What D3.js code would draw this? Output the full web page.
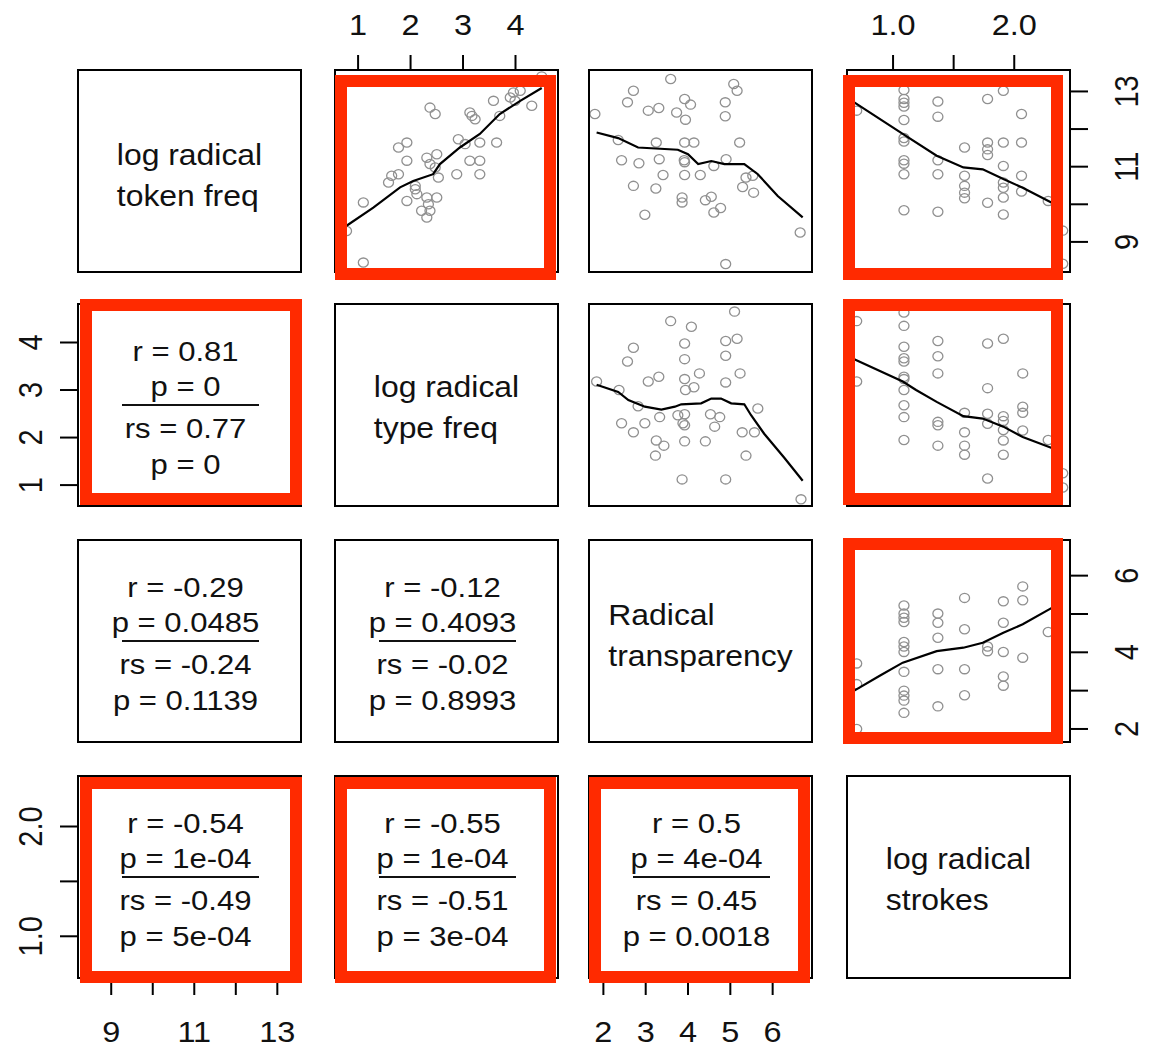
<!DOCTYPE html>
<html><head><meta charset="utf-8">
<script src="https://cdn.jsdelivr.net/npm/d3@7"></script>
<style>body{margin:0;background:#fff}svg{display:block}</style>
</head><body>
<svg id="c" width="1150" height="1049"></svg>
<script>
// ---------------- DATA ----------------
const varNames = [["log radical","token freq"],["log radical","type freq"],["Radical","transparency"],["log radical","strokes"]];
const varDomains = [[8.2,13.57],[0.56,4.81],[1.66,6.93],[0.62,2.46]];
const tickVals = [[9,10,11,12,13],[1,2,3,4],[2,3,4,5,6],[1.0,1.5,2.0]];
const topLabels = {1:["1","2","3","4"], 3:["1.0","","2.0"]};
const bottomLabels = {0:["9","","11","","13"], 2:["2","3","4","5","6"]};
const leftLabels = {1:["1","2","3","4"], 3:["1.0","","2.0"]};
const rightLabels = {0:["9","","11","","13"], 2:["2","","4","","6"]};

// correlation panels (row, col) in the lower triangle
const corrCells = [[1,0],[2,0],[2,1],[3,0],[3,1],[3,2]];
const corrR  = ["0.81","-0.29","-0.12","-0.54","-0.55","0.5"];
const corrP  = ["0","0.0485","0.4093","1e-04","1e-04","4e-04"];
const corrRs = ["0.77","-0.24","-0.02","-0.49","-0.51","0.45"];
const corrPs = ["0","0.1139","0.8993","5e-04","3e-04","0.0018"];

// highlighted (boxed in red) cells
const highlighted = [[0,1],[0,3],[1,0],[1,3],[2,3],[3,0],[3,1],[3,2]];

// scatter points: [x (column variable), y (row variable)]
const pts_r1c2 = [[2.37,12.57],[2.47,12.40],[3.13,12.44],[3.17,12.35],[3.23,12.26],[3.58,12.75],[3.96,12.97],[4.09,13.02],[3.90,12.84],[3.99,12.75],[4.31,12.62],[3.70,12.35],[1.77,11.51],[1.93,11.64],[2.91,11.73],[3.04,11.60],[3.32,11.64],[3.64,11.64],[1.93,11.16],[2.31,11.24],[2.50,11.33],[2.37,11.07],[2.47,10.98],[3.13,11.16],[3.32,11.16],[2.88,10.80],[3.32,10.80],[2.53,10.71],[1.64,10.76],[1.77,10.80],[1.58,10.58],[2.09,10.49],[2.09,10.40],[1.93,10.09],[2.12,10.27],[2.31,10.18],[2.50,10.18],[2.34,10.00],[1.10,10.05],[2.21,9.83],[2.31,9.65],[2.37,9.83],[1.10,8.45],[0.78,9.29],[4.50,13.40]];
const fit_r1c2 = [[0.78,9.43],[1.29,9.91],[1.80,10.45],[2.05,10.62],[2.43,10.80],[2.56,11.07],[2.94,11.51],[3.32,11.87],[3.70,12.40],[4.09,12.75],[4.50,13.09]];

const pts_r1c3 = [[1.80,12.40],[2.71,13.02],[2.57,12.71],[3.59,13.33],[3.06,12.49],[3.31,12.56],[3.92,12.80],[4.06,12.65],[3.73,12.44],[3.94,12.25],[4.88,12.71],[4.88,12.34],[5.08,13.20],[5.16,13.02],[5.22,11.64],[2.35,11.71],[3.25,11.64],[3.92,11.64],[4.14,11.64],[2.43,11.17],[2.84,11.09],[3.32,11.20],[3.91,11.17],[3.92,11.12],[3.41,10.78],[3.92,10.78],[4.29,10.78],[4.61,11.02],[4.90,11.20],[5.37,10.71],[5.53,10.76],[5.29,10.46],[5.55,10.31],[2.71,10.49],[3.24,10.42],[3.86,10.18],[3.86,10.05],[4.41,10.11],[4.55,10.20],[4.61,9.78],[4.77,9.90],[2.98,9.72],[6.65,9.25],[4.89,8.41]];
const fit_r1c3 = [[1.84,11.91],[2.35,11.76],[2.82,11.51],[3.76,11.45],[4.00,11.33],[4.24,11.07],[4.55,11.15],[4.86,11.07],[5.33,11.07],[5.65,10.80],[6.12,10.22],[6.71,9.65]];

const pts_r1c4 = [[0.70,12.49],[1.09,13.04],[1.09,12.80],[1.09,12.70],[1.09,12.60],[1.09,12.24],[1.09,11.76],[1.09,11.67],[1.09,11.17],[1.09,11.08],[1.09,10.80],[1.09,9.84],[1.37,12.73],[1.37,12.33],[1.37,11.17],[1.37,10.80],[1.37,9.80],[1.59,11.51],[1.59,10.76],[1.59,10.49],[1.59,10.31],[1.59,10.16],[1.78,12.80],[1.78,11.64],[1.78,11.46],[1.78,11.31],[1.78,10.04],[1.91,13.02],[1.91,11.64],[1.91,11.02],[1.91,10.58],[1.91,10.44],[1.91,10.18],[1.91,9.73],[2.06,12.40],[2.06,11.64],[2.06,10.76],[2.06,10.34],[2.28,10.09],[2.40,9.30],[2.40,8.42]];
const fit_r1c4 = [[0.68,12.71],[1.08,11.87],[1.36,11.29],[1.58,10.98],[1.74,10.93],[1.91,10.67],[2.07,10.44],[2.31,10.04]];

const pts_r2c3 = [[5.10,4.65],[3.59,4.45],[4.08,4.33],[2.71,3.89],[2.57,3.60],[3.92,3.98],[3.92,3.65],[4.89,4.03],[5.16,4.08],[4.89,3.72],[3.31,3.28],[3.06,3.18],[4.27,3.35],[3.92,3.23],[3.94,3.00],[4.14,3.06],[4.89,3.16],[5.23,3.35],[1.84,3.18],[2.37,3.00],[2.82,2.66],[5.65,2.61],[2.43,2.30],[2.71,2.11],[2.98,2.30],[3.33,2.43],[3.76,2.47],[3.92,2.49],[3.88,2.30],[3.92,2.26],[4.53,2.49],[4.75,2.43],[4.63,2.23],[5.28,2.11],[5.57,2.11],[3.25,1.94],[3.43,1.83],[3.23,1.62],[3.92,1.92],[4.41,1.92],[5.37,1.62],[3.86,1.12],[4.89,1.12],[6.67,0.70]];
const fit_r2c3 = [[1.84,3.11],[2.35,2.96],[2.59,2.79],[2.98,2.65],[3.37,2.59],[3.69,2.65],[3.84,2.70],[4.31,2.72],[4.55,2.82],[4.78,2.82],[5.02,2.72],[5.33,2.70],[5.49,2.47],[5.80,2.08],[6.27,1.58],[6.71,1.09]];

const pts_r2c4 = [[0.70,4.45],[0.70,3.18],[1.09,4.63],[1.09,4.35],[1.09,3.91],[1.09,3.67],[1.09,3.60],[1.09,3.28],[1.09,3.23],[1.09,3.00],[1.09,2.68],[1.09,2.43],[1.09,1.95],[1.37,4.03],[1.37,3.71],[1.37,3.35],[1.37,2.33],[1.37,2.26],[1.37,1.83],[1.59,2.52],[1.59,2.11],[1.59,1.83],[1.59,1.64],[1.78,3.98],[1.78,3.04],[1.78,2.50],[1.78,2.29],[1.78,1.14],[1.91,4.08],[1.91,2.45],[1.91,2.35],[1.91,2.16],[1.91,1.94],[1.91,1.64],[2.07,3.35],[2.07,2.65],[2.07,2.52],[2.07,2.15],[2.28,1.95],[2.40,1.25],[2.40,0.95]];
const fit_r2c4 = [[0.68,3.65],[1.08,3.18],[1.19,3.00],[1.36,2.75],[1.58,2.45],[1.74,2.40],[1.91,2.23],[2.07,2.01],[2.31,1.78]];

const pts_r3c4 = [[0.70,3.71],[0.70,3.17],[0.70,2.00],[1.09,5.22],[1.09,5.01],[1.09,4.90],[1.09,4.79],[1.09,4.27],[1.09,4.15],[1.09,4.01],[1.09,3.49],[1.09,3.00],[1.09,2.87],[1.09,2.74],[1.09,2.42],[1.37,5.01],[1.37,4.77],[1.37,4.38],[1.37,3.56],[1.37,2.59],[1.59,5.42],[1.59,4.60],[1.59,3.56],[1.59,2.88],[1.78,4.15],[1.78,4.03],[1.91,5.33],[1.91,4.77],[1.91,4.01],[1.91,3.37],[1.91,3.13],[2.07,5.72],[2.07,5.36],[2.07,3.86],[2.28,4.53]];
const fit_r3c4 = [[0.68,3.00],[0.89,3.39],[1.08,3.73],[1.36,4.03],[1.58,4.12],[1.74,4.25],[1.91,4.51],[2.07,4.73],[2.31,5.16]];

// ---------------- LAYOUT ----------------
const W = 1150, H = 1049;
const colX = [78, 335, 589, 847], rowY = [70, 304, 540, 776];
const PW = 223, PH = 202;
const FONT = '"Liberation Sans", Arial, Helvetica, sans-serif';
const INK = '#111';
const RED = '#ff2a00';
const labelFirstOffset = [-6, -8, -16, -8];
const redRowNudge = [[5, 8], [-5, -1], [-2, 2], [1, 5]];
const redColNudge = [[2, 1], [0, -2], [0, -2], [-4, -7]];

const svg = d3.select('#c');
svg.append('rect').attr('width', W).attr('height', H).attr('fill', '#fff');

const xs = varDomains.map((d, j) => d3.scaleLinear().domain(d).range([colX[j], colX[j] + PW]));
const ys = varDomains.map((d, i) => d3.scaleLinear().domain(d).range([rowY[i] + PH, rowY[i]]));

function stext(sel, x, y, str, size, sx, anchor, rot) {
  return sel.append('text')
    .attr('transform', `translate(${x},${y}) scale(${sx},1)` + (rot ? ` rotate(${rot})` : ''))
    .attr('text-anchor', anchor || 'middle')
    .attr('font-size', size)
    .attr('font-family', FONT)
    .attr('fill', INK)
    .text(str);
}

const defs = svg.append('defs');
const gPanels = svg.append('g');

// scatter panels
const scatterPanels = [
  {row:0, col:1, pts:pts_r1c2, fit:fit_r1c2},
  {row:0, col:2, pts:pts_r1c3, fit:fit_r1c3},
  {row:0, col:3, pts:pts_r1c4, fit:fit_r1c4},
  {row:1, col:2, pts:pts_r2c3, fit:fit_r2c3},
  {row:1, col:3, pts:pts_r2c4, fit:fit_r2c4},
  {row:2, col:3, pts:pts_r3c4, fit:fit_r3c4}
];

scatterPanels.forEach((p, k) => {
  const id = 'clip' + k;
  defs.append('clipPath').attr('id', id).append('rect')
    .attr('x', colX[p.col]).attr('y', rowY[p.row]).attr('width', PW).attr('height', PH);
  const g = gPanels.append('g').attr('clip-path', `url(#${id})`);
  const x = xs[p.col], y = ys[p.row];
  g.selectAll('ellipse').data(p.pts).join('ellipse')
    .attr('cx', d => x(d[0])).attr('cy', d => y(d[1]))
    .attr('rx', 5).attr('ry', 4.6)
    .attr('fill', 'none').attr('stroke', '#909090').attr('stroke-width', 1.3);
  g.append('path').datum(p.fit)
    .attr('d', d3.line().x(d => x(d[0])).y(d => y(d[1])))
    .attr('fill', 'none').attr('stroke', '#000').attr('stroke-width', 2.2);
});

// diagonal labels
varNames.forEach((lines, i) => {
  const cx = colX[i] + PW / 2, cy = rowY[i] + PH / 2;
  const sx = 1.1, size = 29;
  const ts = lines.map((s, li) => stext(gPanels, 0, 0, s, size, sx, 'start'));
  const maxW = d3.max(ts, t => t.node().getComputedTextLength()) * sx;
  ts.forEach((t, li) => {
    t.attr('transform', `translate(${cx - maxW / 2},${cy + labelFirstOffset[i] + li * 41}) scale(${sx},1)`);
  });
});

// correlation panels
corrCells.forEach((c, k) => {
  const [r, col] = c;
  const cx = colX[col] + PW / 2, cy = rowY[r] + PH / 2;
  const size = 27, sx = 1.15;
  stext(gPanels, cx - 4, cy - 44, 'r = ' + corrR[k], size, sx);
  stext(gPanels, cx - 4, cy - 9, 'p = ' + corrP[k], size, sx);
  gPanels.append('line').attr('x1', cx + 1 - 68.5).attr('x2', cx + 1 + 68.5)
    .attr('y1', cy).attr('y2', cy).attr('stroke', INK).attr('stroke-width', 2);
  stext(gPanels, cx - 4, cy + 33, 'rs = ' + corrRs[k], size, sx);
  stext(gPanels, cx - 4, cy + 69, 'p = ' + corrPs[k], size, sx);
});

// panel borders
for (let i = 0; i < 4; i++) for (let j = 0; j < 4; j++) {
  gPanels.append('rect').attr('x', colX[j]).attr('y', rowY[i]).attr('width', PW).attr('height', PH)
    .attr('fill', 'none').attr('stroke', '#000').attr('stroke-width', 2);
}

// axes
const gAx = svg.append('g');
const AX_SIZE = 29, AX_SX = 1.12;
Object.keys(topLabels).forEach(j => {
  const x = xs[j], y0 = rowY[0];
  tickVals[j].forEach((v, k) => {
    gAx.append('line').attr('x1', x(v)).attr('x2', x(v)).attr('y1', y0).attr('y2', y0 - 15)
      .attr('stroke', '#000').attr('stroke-width', 2);
    if (topLabels[j][k]) stext(gAx, x(v), 35, topLabels[j][k], AX_SIZE, AX_SX);
  });
});
Object.keys(bottomLabels).forEach(j => {
  const x = xs[j], y0 = rowY[3] + PH;
  tickVals[j].forEach((v, k) => {
    gAx.append('line').attr('x1', x(v)).attr('x2', x(v)).attr('y1', y0).attr('y2', y0 + 17)
      .attr('stroke', '#000').attr('stroke-width', 2);
    if (bottomLabels[j][k]) stext(gAx, x(v), 1042, bottomLabels[j][k], AX_SIZE, AX_SX);
  });
});
Object.keys(leftLabels).forEach(i => {
  const y = ys[i], x0 = colX[0];
  tickVals[i].forEach((v, k) => {
    gAx.append('line').attr('x1', x0).attr('x2', x0 - 18).attr('y1', y(v)).attr('y2', y(v))
      .attr('stroke', '#000').attr('stroke-width', 2);
    if (leftLabels[i][k]) stext(gAx, 42, y(v), leftLabels[i][k], AX_SIZE, AX_SX, 'middle', -90);
  });
});
Object.keys(rightLabels).forEach(i => {
  const y = ys[i], x0 = colX[3] + PW;
  tickVals[i].forEach((v, k) => {
    gAx.append('line').attr('x1', x0).attr('x2', x0 + 18).attr('y1', y(v)).attr('y2', y(v))
      .attr('stroke', '#000').attr('stroke-width', 2);
    if (rightLabels[i][k]) stext(gAx, 1138, y(v), rightLabels[i][k], AX_SIZE, AX_SX, 'middle', -90);
  });
});

// red highlight boxes
const gRed = svg.append('g');
highlighted.forEach(([r, c]) => {
  const x0 = colX[c] + redColNudge[c][0], x1 = colX[c] + PW + redColNudge[c][1];
  const y0 = rowY[r] + redRowNudge[r][0], y1 = rowY[r] + PH + redRowNudge[r][1];
  gRed.append('rect').attr('x', x0 + 6).attr('y', y0 + 6)
    .attr('width', x1 - x0 - 12).attr('height', y1 - y0 - 12)
    .attr('fill', 'none').attr('stroke', RED).attr('stroke-width', 12);
});
</script>
</body></html>
